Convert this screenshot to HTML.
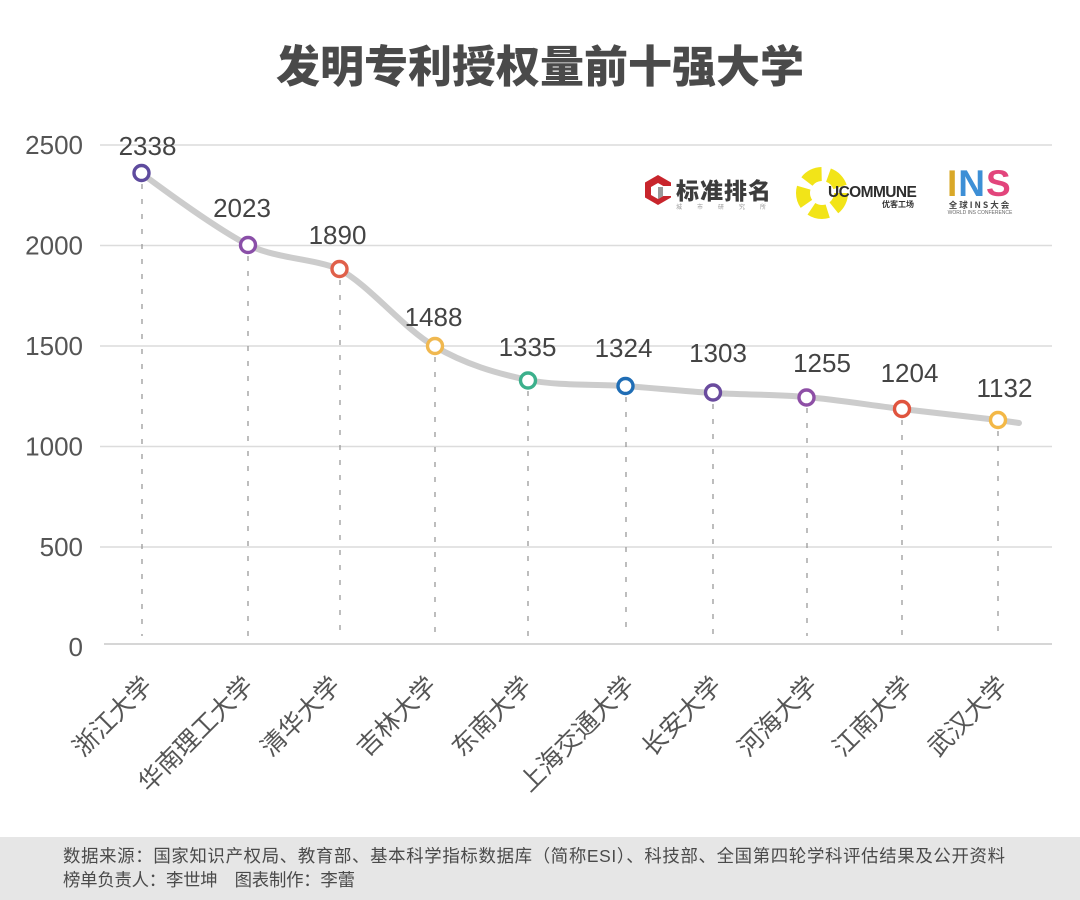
<!DOCTYPE html>
<html>
<head>
<meta charset="utf-8">
<style>
  html, body { margin:0; padding:0; background:#fff; }
  body { width:1080px; height:900px; overflow:hidden; position:relative; }
  svg { display:block; }
</style>
</head>
<body>
<svg width="1080" height="900" viewBox="0 0 1080 900" xmlns="http://www.w3.org/2000/svg">
  <rect x="0" y="0" width="1080" height="900" fill="#ffffff"/>

  <!-- Title -->
  <text x="540" y="82" text-anchor="middle" font-family="'Noto Sans CJK SC', sans-serif" font-weight="900" font-size="44" fill="#4a4a4a">发明专利授权量前十强大学</text>

  <!-- Grid lines -->
  <g stroke="#dcdcdc" stroke-width="1.5">
    <line x1="100" y1="145" x2="1052" y2="145"/>
    <line x1="100" y1="245.5" x2="1052" y2="245.5"/>
    <line x1="100" y1="346" x2="1052" y2="346"/>
    <line x1="100" y1="446.5" x2="1052" y2="446.5"/>
    <line x1="100" y1="547" x2="1052" y2="547"/>
  </g>
  <line x1="104" y1="644" x2="1052" y2="644" stroke="#d6d6d6" stroke-width="2"/>

  <!-- Y axis labels -->
  <g font-family="'Liberation Sans', sans-serif" font-size="26" fill="#555" text-anchor="end">
    <text x="83" y="154">2500</text>
    <text x="83" y="254.5">2000</text>
    <text x="83" y="355">1500</text>
    <text x="83" y="455.5">1000</text>
    <text x="83" y="556">500</text>
    <text x="83" y="656">0</text>
  </g>

  <!-- Dashed drop lines -->
  <g stroke="#9a9a9a" stroke-width="1.3" stroke-dasharray="5 10">
    <line x1="142" y1="184" x2="142" y2="636"/>
    <line x1="248" y1="256" x2="248" y2="636"/>
    <line x1="340" y1="280" x2="340" y2="636"/>
    <line x1="435" y1="357" x2="435" y2="636"/>
    <line x1="528" y1="391" x2="528" y2="636"/>
    <line x1="626" y1="397" x2="626" y2="636"/>
    <line x1="713" y1="404" x2="713" y2="636"/>
    <line x1="807" y1="408" x2="807" y2="636"/>
    <line x1="902" y1="420" x2="902" y2="636"/>
    <line x1="998" y1="431" x2="998" y2="636"/>
  </g>

  <!-- Smoothed line -->
  <path d="M141,173 C160,187 212,226 248,245 C278,259 310,258 339,269 C370,285.8 402.5,327.5 434,346 C465.5,364.5 496.2,373.3 528,380 C559.8,386.2 594.2,383.8 625,386 C655.8,388.2 682.8,391.2 713,393 C743.2,394.8 774.5,394.3 806,397 C837.5,399.7 870,405.2 902,409 C934,412.8 978.5,417.7 998,420 L1019,423"
        fill="none" stroke="#cccccc" stroke-width="6" stroke-linecap="round" stroke-linejoin="round"/>

  <!-- Markers -->
  <g fill="#ffffff" stroke-width="3.4">
    <circle cx="141.5" cy="173" r="7.5" stroke="#5e4b9e"/>
    <circle cx="248" cy="245" r="7.5" stroke="#8a4fa8"/>
    <circle cx="339.5" cy="269" r="7.5" stroke="#e0604a"/>
    <circle cx="435" cy="346" r="7.5" stroke="#f0b850"/>
    <circle cx="528" cy="380.5" r="7.5" stroke="#3cb08c"/>
    <circle cx="625.5" cy="386" r="7.5" stroke="#1f6db5"/>
    <circle cx="713" cy="392.5" r="7.5" stroke="#6a4b9e"/>
    <circle cx="806.5" cy="397.5" r="7.5" stroke="#8e4fa6"/>
    <circle cx="902" cy="409" r="7.5" stroke="#e0543e"/>
    <circle cx="998" cy="420" r="7.5" stroke="#f3b847"/>
  </g>

  <!-- Data labels -->
  <g font-family="'Liberation Sans', sans-serif" font-size="26" fill="#444" text-anchor="middle">
    <text x="147.5" y="155">2338</text>
    <text x="242" y="217">2023</text>
    <text x="337.5" y="244">1890</text>
    <text x="433.5" y="326">1488</text>
    <text x="527.5" y="356">1335</text>
    <text x="623.5" y="357">1324</text>
    <text x="718" y="362">1303</text>
    <text x="822" y="372">1255</text>
    <text x="909.5" y="382">1204</text>
    <text x="1004.5" y="397">1132</text>
  </g>

  <!-- X axis labels (rotated) -->
  <g font-family="'Liberation Sans', 'Noto Sans CJK SC', sans-serif" font-size="25" fill="#555" text-anchor="end">
    <text transform="translate(154,687) rotate(-45)">浙江大学</text>
    <text transform="translate(255,687) rotate(-45)">华南理工大学</text>
    <text transform="translate(342,687) rotate(-45)">清华大学</text>
    <text transform="translate(438,687) rotate(-45)">吉林大学</text>
    <text transform="translate(533,687) rotate(-45)">东南大学</text>
    <text transform="translate(636,687) rotate(-45)">上海交通大学</text>
    <text transform="translate(723,687) rotate(-45)">长安大学</text>
    <text transform="translate(819,687) rotate(-45)">河海大学</text>
    <text transform="translate(914,687) rotate(-45)">江南大学</text>
    <text transform="translate(1009,687) rotate(-45)">武汉大学</text>
  </g>

  <!-- Logo 1: 标准排名 -->
  <g>
    <polygon points="658,175 671,182.5 671,197.5 658,205 645,197.5 645,182.5" fill="#c8252c"/>
    <polygon points="658,183 665,187 665,195 658,199 651,195 651,187" fill="#ffffff"/>
    <polygon points="658,187 665,187 665,195 658,199" fill="#9a9a9a"/>
    <rect x="663" y="186" width="9" height="10" fill="#ffffff"/>
    <text x="676" y="199" font-family="'Noto Sans CJK SC', sans-serif" font-weight="900" font-size="23" fill="#3c3c3c" letter-spacing="1">标准排名</text>
    <text x="676" y="209" font-family="'Noto Sans CJK SC', sans-serif" font-size="6" fill="#999" letter-spacing="15">城市研究所</text>
  </g>

  <!-- Logo 2: UCOMMUNE -->
  <g>
    <circle cx="822" cy="193" r="19" fill="none" stroke="#f2e418" stroke-width="14" stroke-dasharray="17 7"/>
    <circle cx="822" cy="193" r="5" fill="#ffffff"/>
    <text x="828" y="197" font-family="'Liberation Sans', sans-serif" font-weight="bold" font-size="15.5" fill="#2e2e2e" letter-spacing="-0.6">UCOMMUNE</text>
    <text x="882" y="207" font-family="'Noto Sans CJK SC', sans-serif" font-weight="bold" font-size="8" fill="#333">优客工场</text>
  </g>

  <!-- Logo 3: INS -->
  <g>
    <text x="947" y="196" font-family="'Liberation Sans', sans-serif" font-weight="bold" font-size="37" letter-spacing="1">
      <tspan fill="#d9a828">I</tspan><tspan fill="#3d8fd6">N</tspan><tspan fill="#e2457c">S</tspan>
    </text>
    <text x="980" y="208" text-anchor="middle" font-family="'Noto Sans CJK SC', sans-serif" font-weight="bold" font-size="8.5" fill="#444" letter-spacing="2">全球INS大会</text>
    <text x="980" y="214" text-anchor="middle" font-family="'Liberation Sans', sans-serif" font-size="5" fill="#666">WORLD INS CONFERENCE</text>
  </g>

  <!-- Footer -->
  <rect x="0" y="837" width="1080" height="63" fill="#e6e6e6"/>
  <g font-family="'Liberation Sans', 'Noto Sans CJK SC', sans-serif" font-size="17.4" fill="#4a4a4a">
    <text x="63" y="862" textLength="942" lengthAdjust="spacing">数据来源：国家知识产权局、教育部、基本科学指标数据库（简称ESI）、科技部、全国第四轮学科评估结果及公开资料</text>
    <text x="63" y="886" textLength="292" lengthAdjust="spacing">榜单负责人：李世坤　图表制作：李蕾</text>
  </g>
</svg>
</body>
</html>
